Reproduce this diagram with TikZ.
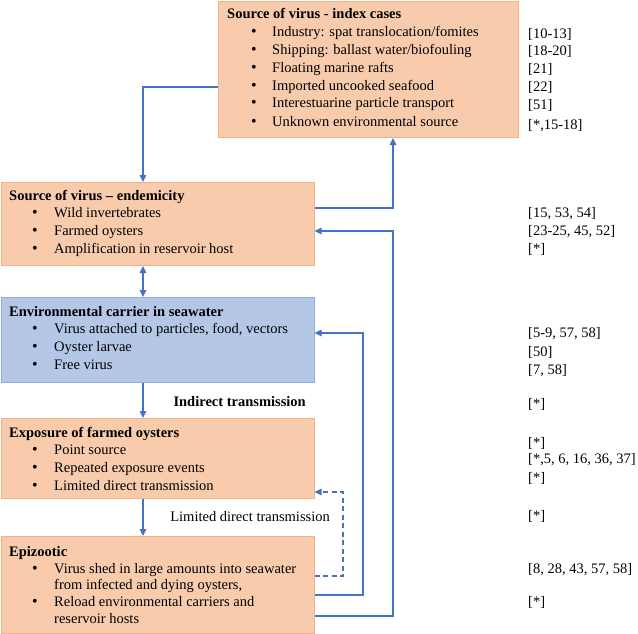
\documentclass[tikz,border=0pt]{standalone}
\usepackage{fontspec}
\setmainfont{Liberation Serif}
\usetikzlibrary{arrows.meta}
\definecolor{orfill}{HTML}{F8CBAD}
\definecolor{ordraw}{HTML}{F4B183}
\definecolor{blfill}{HTML}{B4C7E7}
\definecolor{bldraw}{HTML}{8FAADC}
\definecolor{lnblue}{HTML}{4472C4}
\begin{document}
\begin{tikzpicture}[x=1pt,y=-1pt,
  obox/.style={draw=ordraw,fill=orfill,line width=1pt,inner sep=0pt,anchor=north west},
  bbox/.style={draw=bldraw,fill=blfill,line width=1pt,inner sep=0pt,anchor=north west},
  txt/.style={anchor=base west,inner sep=0pt,font=\fontsize{14.5}{17}\selectfont},
  ttl/.style={anchor=base west,inner sep=0pt,font=\fontsize{14.5}{17}\selectfont\bfseries},
  bul/.style={anchor=base,inner sep=0pt,font=\fontsize{16}{17}\selectfont},
  arr/.style={draw=lnblue,line width=1.2pt,-{Triangle[length=7pt,width=6.5pt]}},
  darr/.style={draw=lnblue,line width=1.2pt,{Triangle[length=7pt,width=6.5pt]}-{Triangle[length=7pt,width=6.5pt]}},
  dasharr/.style={arr,dash pattern=on 5pt off 3.5pt}]
\useasboundingbox (0,0) rectangle (638,634);

% boxes
\node[obox,minimum width=300pt,minimum height=136pt] (idx) at (218,1) {};
\node[obox,minimum width=313pt,minimum height=83pt] (endem) at (0.5,182) {};
\node[bbox,minimum width=313pt,minimum height=85pt] (env) at (0.5,297) {};
\node[obox,minimum width=313pt,minimum height=80pt] (expo) at (0.5,418) {};
\node[obox,minimum width=313pt,minimum height=97pt] (epi) at (0.5,536) {};

% index box text
\node[ttl] (idxt) at (227,19) {Source of virus - index cases};
\foreach \yy/\tt [count=\i] in {37/{Industry: spat translocation/fomites},55/{Shipping: ballast water/biofouling},73/{Floating marine rafts},91/{Imported uncooked seafood},108/{Interestuarine particle transport},126/{Unknown environmental source}}{
  \node[bul] (idxb\i) at (254,\yy) {\textbullet};
  \node[txt] (idxl\i) at (272,\yy) {\tt};
}
\foreach \yy/\tt [count=\i] in {39/{[10-13]},56/{[18-20]},74/{[21]},92/{[22]},110/{[51]},129/{[*,15-18]}}{
  \node[txt] (idxr\i) at (528,\yy) {\tt};
}

% endemicity
\node[ttl] (endt) at (9,200) {Source of virus – endemicity};
\foreach \yy/\tt [count=\i] in {217/{Wild invertebrates},235/{Farmed oysters},253/{Amplification in reservoir host}}{
  \node[bul] (endb\i) at (35,\yy) {\textbullet};
  \node[txt] (endl\i) at (54,\yy) {\tt};
}
\foreach \yy/\tt [count=\i] in {217/{[15, 53, 54]},235/{[23-25, 45, 52]},253/{[*]}}{
  \node[txt] (endr\i) at (528,\yy) {\tt};
}

% environmental carrier
\node[ttl] (envt) at (9,316) {Environmental carrier in seawater};
\foreach \yy/\tt [count=\i] in {333/{Virus attached to particles, food, vectors},351/{Oyster larvae},369/{Free virus}}{
  \node[bul] (envb\i) at (35,\yy) {\textbullet};
  \node[txt] (envl\i) at (54,\yy) {\tt};
}
\foreach \yy/\tt [count=\i] in {337/{[5-9, 57, 58]},356/{[50]},374/{[7, 58]},408/{[*]}}{
  \node[txt] (envr\i) at (528,\yy) {\tt};
}
\node[ttl,anchor=base east] (indl) at (306,406) {Indirect transmission};

% exposure
\node[ttl] (expt) at (9,437) {Exposure of farmed oysters};
\foreach \yy/\tt [count=\i] in {454/{Point source},472/{Repeated exposure events},490/{Limited direct transmission}}{
  \node[bul] (expb\i) at (35,\yy) {\textbullet};
  \node[txt] (expl\i) at (54,\yy) {\tt};
}
\foreach \yy/\tt [count=\i] in {447/{[*]},463/{[*,5, 6, 16, 36, 37]},482/{[*]},520/{[*]}}{
  \node[txt] (expr\i) at (528,\yy) {\tt};
}
\node[txt,anchor=base east] (ldl) at (330,521) {Limited direct transmission};

% epizootic
\node[ttl] (epit) at (9,556) {Epizootic};
\node[bul] (epib1) at (35,573) {\textbullet};
\node[txt] (epil1) at (54,573) {Virus shed in large amounts into seawater};
\node[txt] (epil2) at (54,589) {from infected and dying oysters,};
\node[bul] (epib2) at (35,606) {\textbullet};
\node[txt] (epil3) at (54,606) {Reload environmental carriers and};
\node[txt] (epil4) at (54,623) {reservoir hosts};
\node[txt] (epir1) at (528,573) {[8, 28, 43, 57, 58]};
\node[txt] (epir2) at (528,606) {[*]};

% connectors
\coordinate (colx) at (143,0);
\coordinate (ka) at (143,87);
\draw[arr] (ka -| idx.west) -- (ka) -- (ka |- endem.north);
\coordinate (kb) at (393,208);
\draw[arr] (kb -| endem.east) -- (kb) -- (kb |- idx.south);
\draw[darr] (colx |- endem.south) -- (colx |- env.north);
\draw[arr] (colx |- env.south) -- (colx |- expo.north);
\draw[arr] (colx |- expo.south) -- (colx |- epi.north);
\coordinate (kc1) at (393,616);
\coordinate (kc2) at (393,231);
\draw[arr] (kc1 -| epi.east) -- (kc1) -- (kc2) -- (kc2 -| endem.east);
\coordinate (kd1) at (363,595);
\coordinate (kd2) at (363,333);
\draw[arr] (kd1 -| epi.east) -- (kd1) -- (kd2) -- (kd2 -| env.east);
\coordinate (ke1) at (343,576);
\coordinate (ke2) at (343,492);
\draw[dasharr] (ke1 -| epi.east) -- (ke1) -- (ke2) -- (ke2 -| expo.east);
\end{tikzpicture}
\end{document}
